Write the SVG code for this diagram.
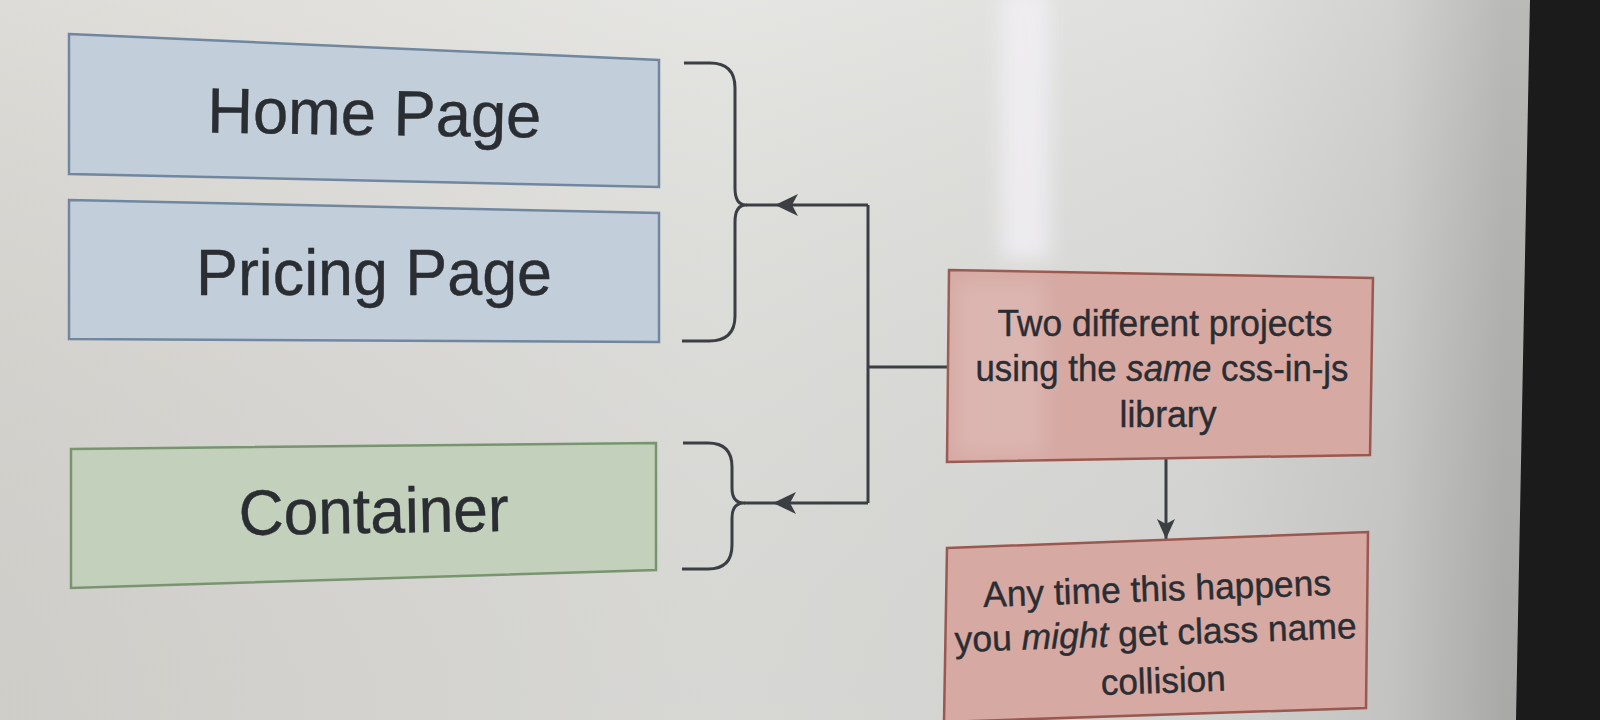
<svg xmlns="http://www.w3.org/2000/svg" width="1600" height="720" viewBox="0 0 1600 720">
  <style>
    .lbl { font-family: "Liberation Sans", Arial, sans-serif; fill: #2a2d32; text-anchor: middle; stroke: #2a2d32; stroke-width: 0.4; }
    .big { font-size: 64px; }
    .mid { font-size: 36px; }
    .blue { fill: #c2cfdb; stroke: #71879f; stroke-width: 2.5; }
    .green { fill: #c3d0bb; stroke: #789570; stroke-width: 2.5; }
    .red { fill: #d6a9a3; stroke: #9a5850; stroke-width: 2.5; }
    .conn { fill: none; stroke: #3b3f44; stroke-width: 3; stroke-linejoin: round; }
  </style>
  <defs>
    <linearGradient id="bg" x1="0" y1="0" x2="1" y2="0">
      <stop offset="0" stop-color="#dad8d3"/>
      <stop offset="0.45" stop-color="#e2e2df"/>
      <stop offset="0.75" stop-color="#dcdcda"/>
      <stop offset="0.87" stop-color="#cdcdcb"/>
      <stop offset="0.94" stop-color="#b2b2b0"/>
    </linearGradient>
    <linearGradient id="shade" x1="0" y1="0" x2="0" y2="1">
      <stop offset="0" stop-color="#ffffff" stop-opacity="0.10"/>
      <stop offset="1" stop-color="#000000" stop-opacity="0.05"/>
    </linearGradient>
    <filter id="soft" x="-50%" y="-50%" width="200%" height="200%">
      <feGaussianBlur stdDeviation="10"/>
    </filter>
    <marker id="arrL" markerUnits="userSpaceOnUse" markerWidth="26" markerHeight="26" viewBox="-24 -13 26 26" refX="0" refY="0" orient="auto">
      <path d="M0,0 L-23,-11 L-17,0 L-23,11 Z" fill="#3b3f44"/>
    </marker>
    <marker id="arrS" markerUnits="userSpaceOnUse" markerWidth="22" markerHeight="22" viewBox="-21 -11 22 22" refX="0" refY="0" orient="auto">
      <path d="M0,0 L-20,-9 L-15,0 L-20,9 Z" fill="#3b3f44"/>
    </marker>
  </defs>

  <!-- background (photographed screen) -->
  <rect x="0" y="0" width="1600" height="720" fill="url(#bg)"/>
  <rect x="0" y="0" width="1600" height="720" fill="url(#shade)"/>
  <rect x="1000" y="-10" width="50" height="270" fill="#f3f1f6" opacity="0.75" filter="url(#soft)"/>
  <polygon points="1530,0 1600,0 1600,720 1516,720" fill="#1b1b1c"/>

  <g id="connectors">
    <path class="conn" d="M684,63 L710,63 Q735,63 735,88 L735,188 Q735,205 746,205 Q735,205 735,222 L735,316 Q735,341 709,341 L682,341"/>
    <path class="conn" d="M683,443 L708,443 Q732,443 732,467 L732,488 Q732,503 744,503 Q732,503 732,518 L732,545 Q732,569 708,569 L682,569"/>
    <path class="conn" d="M948,367 L868,367"/>
    <path class="conn" d="M868,205 L868,503"/>
    <path class="conn" d="M868,205 L775,205 L746,205" marker-mid="url(#arrL)"/>
    <path class="conn" d="M868,503 L773,503 L744,503" marker-mid="url(#arrL)"/>
    <path class="conn" d="M1166,459 L1166,539" marker-end="url(#arrS)"/>
  </g>

  <g id="home-page">
    <polygon class="blue" points="69,34 659,60 659,187 69,174"/>
    <text class="lbl big" x="374" y="135" textLength="334" lengthAdjust="spacingAndGlyphs" transform="rotate(0.9 374 135)">Home Page</text>
  </g>

  <g id="pricing-page">
    <polygon class="blue" points="69,200 659,213 659,342 69,339"/>
    <text class="lbl big" x="374" y="295" textLength="356" lengthAdjust="spacingAndGlyphs">Pricing Page</text>
  </g>

  <g id="container">
    <polygon class="green" points="71,449 656,443 656,570 71,588"/>
    <text class="lbl big" x="374" y="533" textLength="270" lengthAdjust="spacingAndGlyphs" transform="rotate(-0.9 374 533)">Container</text>
  </g>

  <g id="two-projects">
    <polygon class="red" points="949,270 1373,278 1370,455 947,462"/>
    <rect x="955" y="280" width="90" height="175" fill="#ffffff" opacity="0.14" filter="url(#soft)"/>
    <text class="lbl mid" x="1165" y="336" textLength="335" lengthAdjust="spacingAndGlyphs">Two different projects</text>
    <text class="lbl mid" x="1162" y="381" textLength="373" lengthAdjust="spacingAndGlyphs">using the <tspan font-style="italic">same</tspan> css-in-js</text>
    <text class="lbl mid" x="1168" y="427" textLength="97" lengthAdjust="spacingAndGlyphs">library</text>
  </g>

  <g id="collision">
    <polygon class="red" points="947,548 1368,532 1366,708 944,722"/>
    <g transform="rotate(-2 1159 645)">
      <text class="lbl mid" x="1159" y="601" textLength="348" lengthAdjust="spacingAndGlyphs">Any time this happens</text>
      <text class="lbl mid" x="1156" y="645" textLength="402" lengthAdjust="spacingAndGlyphs">you <tspan font-style="italic">might</tspan> get class name</text>
      <text class="lbl mid" x="1162" y="693" textLength="125" lengthAdjust="spacingAndGlyphs">collision</text>
    </g>
  </g>
</svg>
